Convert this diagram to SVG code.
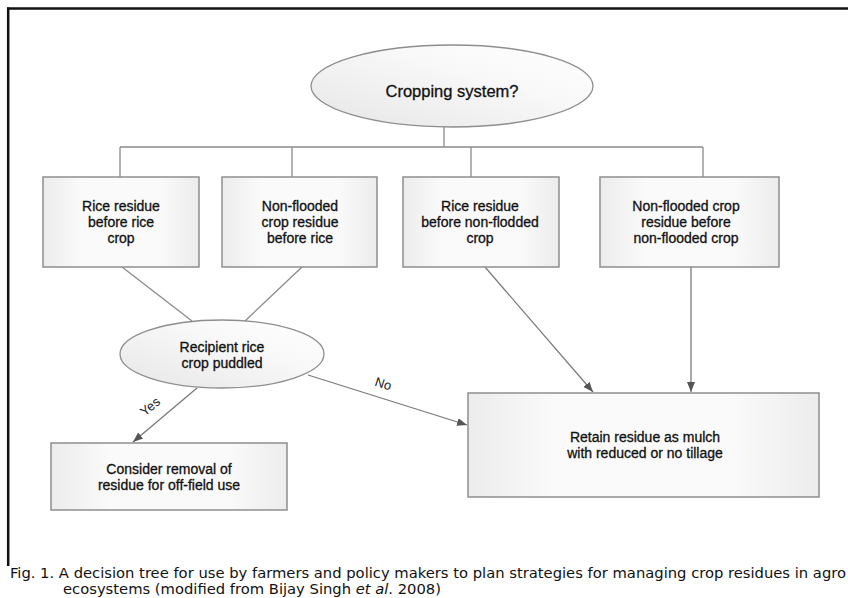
<svg xmlns="http://www.w3.org/2000/svg" width="848" height="598" viewBox="0 0 848 598">
<style>
.box{fill:url(#gb);stroke:#8e8e8e;stroke-width:1.5}
.ell{fill:url(#ge);stroke:#8e8e8e;stroke-width:1.3}
.t{font-family:"Liberation Sans",Arial,sans-serif;font-size:14px;fill:#111;stroke:#111;stroke-width:0.3;text-anchor:middle}
.big{font-size:16.5px}
.lab{font-family:"Liberation Sans",Arial,sans-serif;font-size:13px;fill:#1a1a1a;text-anchor:middle}
.cap{font-family:"DejaVu Sans Condensed","DejaVu Sans",Verdana,sans-serif;font-size:14px;fill:#111}
.ln{stroke:#8a8a8a;stroke-width:1.3;fill:none}
.ar{stroke:#7a7a7a;stroke-width:1.3;fill:none;marker-end:url(#ah)}
</style>
<defs>
<linearGradient id="gb" x1="0" y1="0" x2="1" y2="0">
<stop offset="0" stop-color="#ececec"/><stop offset="0.25" stop-color="#fafafa"/><stop offset="0.75" stop-color="#fafafa"/><stop offset="1" stop-color="#ececec"/>
</linearGradient>
<linearGradient id="ge" x1="0" y1="1" x2="1" y2="0">
<stop offset="0" stop-color="#e6e6e6"/><stop offset="0.6" stop-color="#f8f8f8"/><stop offset="1" stop-color="#ffffff"/>
</linearGradient>
<marker id="ah" viewBox="0 0 10 10" refX="10" refY="5" markerWidth="10" markerHeight="10" markerUnits="userSpaceOnUse" orient="auto">
<path d="M0,1 L10,5 L0,9 Z" fill="#555"/>
</marker>
</defs>
<rect width="848" height="598" fill="#fff"/>
<g id="frame">
<line x1="7" y1="8.5" x2="848" y2="8.5" stroke="#111" stroke-width="2.5"/>
<line x1="8.2" y1="7.5" x2="8.2" y2="566" stroke="#111" stroke-width="2.5"/>
</g>
<g id="connectors">
<line class="ln" x1="444" y1="127" x2="444" y2="147"/>
<line class="ln" x1="120" y1="147" x2="703" y2="147"/>
<line class="ln" x1="120" y1="147" x2="120" y2="177"/>
<line class="ln" x1="292" y1="147" x2="292" y2="177"/>
<line class="ln" x1="471" y1="147" x2="471" y2="177"/>
<line class="ln" x1="703" y1="147" x2="703" y2="177"/>
<line class="ln" x1="122" y1="267" x2="192" y2="321"/>
<line class="ln" x1="302" y1="267" x2="245" y2="321"/>
<line class="ar" x1="485" y1="267" x2="593" y2="392"/>
<line class="ar" x1="691" y1="267" x2="691" y2="392"/>
<line class="ar" x1="197" y1="388" x2="133" y2="442"/>
<line class="ar" x1="308" y1="375" x2="467" y2="425"/>
<text class="lab" transform="translate(382,388) rotate(18)">No</text>
<text class="lab" transform="translate(153,410) rotate(-40)">Yes</text>
</g>
<g id="n-crop">
<ellipse class="ell" cx="452" cy="86" rx="141" ry="41"/>
<text class="t big" x="452" y="97">Cropping system?</text>
</g>
<g id="n-b1">
<rect class="box" x="43" y="177" width="156" height="90"/>
<text class="t" x="121" y="211">Rice residue</text>
<text class="t" x="121" y="227">before rice</text>
<text class="t" x="121" y="243">crop</text>
</g>
<g id="n-b2">
<rect class="box" x="222" y="177" width="155" height="90"/>
<text class="t" x="300" y="211">Non-flooded</text>
<text class="t" x="300" y="227">crop residue</text>
<text class="t" x="300" y="243">before rice</text>
</g>
<g id="n-b3">
<rect class="box" x="403" y="177" width="156" height="90"/>
<text class="t" x="480" y="211">Rice residue</text>
<text class="t" x="480" y="227">before non-flodded</text>
<text class="t" x="480" y="243">crop</text>
</g>
<g id="n-b4">
<rect class="box" x="600" y="177" width="179" height="90"/>
<text class="t" x="686" y="211">Non-flooded crop</text>
<text class="t" x="686" y="227">residue before</text>
<text class="t" x="686" y="243">non-flooded crop</text>
</g>
<g id="n-puddled">
<ellipse class="ell" cx="222" cy="354" rx="102" ry="34"/>
<text class="t" x="222" y="352">Recipient rice</text>
<text class="t" x="222" y="368">crop puddled</text>
</g>
<g id="n-remove">
<rect class="box" x="51" y="443" width="236" height="67"/>
<text class="t" x="169" y="474">Consider removal of</text>
<text class="t" x="169" y="490">residue for off-field use</text>
</g>
<g id="n-retain">
<rect class="box" x="468" y="393" width="351" height="104"/>
<text class="t" x="645" y="442">Retain residue as mulch</text>
<text class="t" x="645" y="458">with reduced or no tillage</text>
</g>
<g id="caption">
<text class="cap" x="10" y="578" textLength="836" lengthAdjust="spacingAndGlyphs">Fig. 1. A decision tree for use by farmers and policy makers to plan strategies for managing crop residues in agro</text>
<text class="cap" x="63" y="594" textLength="378" lengthAdjust="spacingAndGlyphs">ecosystems (modified from Bijay Singh <tspan font-style="italic">et al</tspan>. 2008)</text>
</g>
</svg>
